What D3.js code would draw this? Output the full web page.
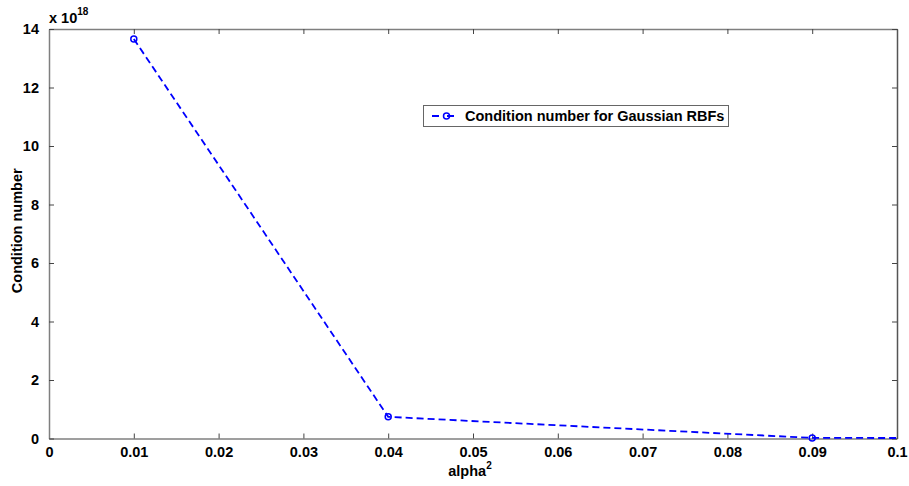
<!DOCTYPE html>
<html><head><meta charset="utf-8">
<script src="https://cdn.jsdelivr.net/npm/d3@7"></script>
<style>body{margin:0;background:#fff}svg{display:block}text{font-family:Arial,"Liberation Sans",sans-serif;font-weight:bold;fill:#000}</style>
</head><body><svg id="c" width="909" height="486"></svg>
<script>
const alphaSq = [0.01, 0.04, 0.09, 0.16];
const condNum = [13.66, 0.74, 0.02, 0.0]; // x 10^18
const xTicks = [0, 0.01, 0.02, 0.03, 0.04, 0.05, 0.06, 0.07, 0.08, 0.09, 0.1];
const xTickLabels = ["0","0.01","0.02","0.03","0.04","0.05","0.06","0.07","0.08","0.09","0.1"];
const yTicks = [0, 2, 4, 6, 8, 10, 12, 14];
const seriesName = "Condition number for Gaussian RBFs";

(function(){
const svg = d3.select("#c");
const L = 49, R = 897, T = 29, B = 438.5;
const FS = 14.5;
const x = d3.scaleLinear().domain([0, 0.1]).range([L, R]);
const y = d3.scaleLinear().domain([0, 14]).range([B, T]);
const axisCol = "#7f7f7f";

svg.append("defs").append("clipPath").attr("id","clip")
  .append("rect").attr("x",L).attr("y",T-6).attr("width",R-L+1).attr("height",B-T+10);

const gBottom = svg.append("g").attr("transform",`translate(0,${B})`)
  .call(d3.axisBottom(x).tickValues(xTicks).tickFormat((d,i)=>xTickLabels[i]).tickSizeInner(-5).tickSizeOuter(0).tickPadding(8));
const gTop = svg.append("g").attr("transform",`translate(0,${T})`)
  .call(d3.axisTop(x).tickValues(xTicks).tickFormat("").tickSizeInner(-5).tickSizeOuter(0));
const gLeft = svg.append("g").attr("transform",`translate(${L},0)`)
  .call(d3.axisLeft(y).tickValues(yTicks).tickFormat(d3.format("d")).tickSizeInner(-5).tickSizeOuter(0).tickPadding(10));
const gRight = svg.append("g").attr("transform",`translate(${R},0)`)
  .call(d3.axisRight(y).tickValues(yTicks).tickFormat("").tickSizeInner(-5).tickSizeOuter(0));
[gBottom, gTop, gLeft, gRight].forEach(g => {
  g.select(".domain").attr("stroke", axisCol).attr("stroke-width", 1.5);
  g.selectAll(".tick line").attr("stroke", "#444").attr("stroke-width", 1);
  g.selectAll("text").attr("font-size", FS).attr("font-family","Arial, 'Liberation Sans', sans-serif").attr("font-weight","bold").attr("fill","#000");
});
gRight.select(".domain").attr("stroke","#555");

const ex = svg.append("text").attr("x", 49).attr("y", 23).attr("font-size", FS);
ex.append("tspan").text("x 10");
ex.append("tspan").attr("dy", -8).attr("font-size", 10).text("18");

const xl = svg.append("text").attr("x", 470).attr("y", 476).attr("text-anchor","middle").attr("font-size", FS);
xl.append("tspan").text("alpha");
xl.append("tspan").attr("dy", -7).attr("font-size", 10).text("2");
svg.append("text").attr("transform",`translate(22,${(T+B)/2 - 3}) rotate(-90)`)
  .attr("text-anchor","middle").attr("font-size", FS).text("Condition number");

const data = alphaSq.map((a,i)=>({a, v: condNum[i]}));
const g = svg.append("g").attr("clip-path","url(#clip)");
g.append("path").datum(data)
  .attr("d", d3.line().x(d=>x(d.a)).y(d=>y(d.v)))
  .attr("fill","none").attr("stroke","#0000ff").attr("stroke-width",1.8).attr("stroke-dasharray","7,4");
g.selectAll("circle").data(data).join("circle")
  .attr("cx", d=>x(d.a)).attr("cy", d=>y(d.v)).attr("r", 3)
  .attr("fill","none").attr("stroke","#0000ff").attr("stroke-width",1.5);

const lg = svg.append("g");
lg.append("rect").attr("x",423.5).attr("y",105.5).attr("width",305).attr("height",21)
  .attr("fill","#fff").attr("stroke","#666").attr("stroke-width",1);
lg.append("line").attr("x1",432).attr("x2",461).attr("y1",116).attr("y2",116)
  .attr("stroke","#0000ff").attr("stroke-width",1.8).attr("stroke-dasharray","7,8");
lg.append("circle").attr("cx",446.5).attr("cy",116).attr("r",3)
  .attr("fill","none").attr("stroke","#0000ff").attr("stroke-width",1.5);
lg.append("text").attr("x",465).attr("y",121).attr("font-size",FS).text(seriesName);
})();
</script></body></html>
